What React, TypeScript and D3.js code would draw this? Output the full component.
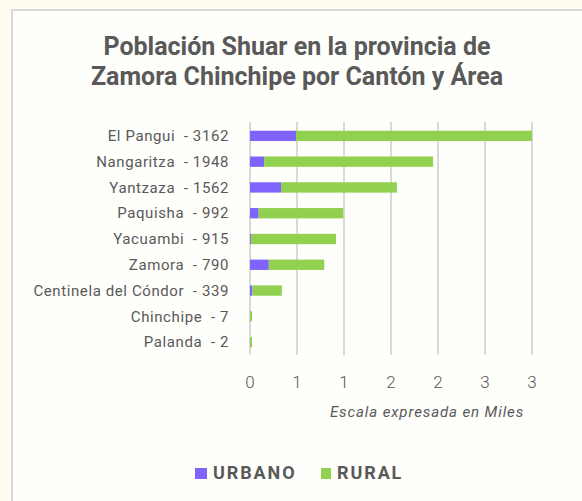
import React from 'react';
import * as d3 from 'd3';

// cantones (orden del gráfico) y población por área
const cantones = ['El Pangui', 'Nangaritza', 'Yantzaza', 'Paquisha', 'Yacuambi', 'Zamora', 'Centinela del Cóndor', 'Chinchipe', 'Palanda'];
const totales = [3162, 1948, 1562, 992, 915, 790, 339, 7, 2];
const urbano = [490, 150, 330, 92, 10, 200, 25, 0, 0];
const rural = [2672, 1798, 1232, 900, 905, 590, 314, 7, 2];
const ticks = [0, 0.5, 1, 1.5, 2, 2.5, 3];

const W = 582, H = 501;
const gris = '#595959';
const colUrbano = '#7f63fc';
const colRural = '#92d050';

export default function App() {
  const x = d3.scaleLinear().domain([0, 3]).range([250, 532]).clamp(true);
  const y = d3.scaleBand().domain(cantones).range([123, 355]).paddingInner(0.6).paddingOuter(0.3);

  const rows = cantones.map((c, i) => ({
    c,
    label: c + '  - ' + totales[i],
    u: urbano[i] / 1000,
    r: rural[i] / 1000,
  }));

  return (
    <svg width={W} height={H} style={{ position: 'absolute', left: 0, top: 0 }} fontFamily="Roboto, sans-serif">
      <rect width={W} height={H} fill="#fffdf0" />
      <rect x={12} y={10} width={W} height={H} fill="#fefefb" stroke="#d9d9d9" strokeWidth={2} />

      <text x={297} y={55} textAnchor="middle" fontSize={25} fontWeight="bold" fill={gris} letterSpacing={0}>
        Población Shuar en la provincia de
      </text>
      <text x={297} y={85} textAnchor="middle" fontSize={25} fontWeight="bold" fill={gris} letterSpacing={0}>
        Zamora Chinchipe por Cantón y Área
      </text>

      {/* grid */}
      {ticks.map(t => (
        <line key={t} x1={x(t)} x2={x(t)} y1={122} y2={355} stroke="#d9d9d9" strokeWidth={2} />
      ))}

      {/* barras */}
      {rows.map(d => {
        const y0 = y(d.c)!;
        const bw = y.bandwidth();
        const xu = x(d.u);
        const xr = x(d.u + d.r);
        return (
          <g key={d.c}>
            <text x={229} y={y0 + bw / 2} dy="0.35em" textAnchor="end" fontSize={15} fill={gris} letterSpacing={0.6} style={{ whiteSpace: 'pre' }}>
              {d.label}
            </text>
            {d.u > 0 && <rect x={x(0)} y={y0} width={xu - x(0)} height={bw} fill={colUrbano} />}
            <rect x={xu} y={y0} width={Math.max(xr - xu, 2)} height={bw} fill={colRural} />
          </g>
        );
      })}

      {/* eje x */}
      {ticks.map(t => (
        <text key={t} x={x(t)} y={388} textAnchor="middle" fontSize={17} fontWeight={300} fill={gris}>
          {d3.format('.0f')(Math.round(t + 0.001))}
        </text>
      ))}
      <text x={427} y={417} textAnchor="middle" fontSize={15} fontStyle="italic" fill={gris} letterSpacing={0.9}>
        Escala expresada en Miles
      </text>

      {/* leyenda */}
      <rect x={195} y={468} width={12} height={11} fill={colUrbano} />
      <text x={213} y={479} fontSize={18} fontWeight="bold" fill={gris} letterSpacing={1.9}>URBANO</text>
      <rect x={321} y={468} width={10} height={11} fill={colRural} />
      <text x={337} y={479} fontSize={18} fontWeight="bold" fill={gris} letterSpacing={1.9}>RURAL</text>
    </svg>
  );
}
